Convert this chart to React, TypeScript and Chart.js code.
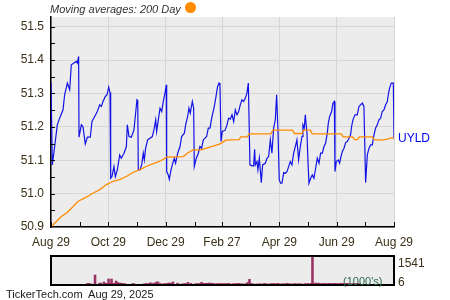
import React, { useEffect, useRef } from 'react';
import { Chart, registerables } from 'chart.js';
Chart.register(...registerables);

// ---------- data ----------
const xTickDays = [0, 61, 122, 182, 243, 304, 365];
const xTickLabels = ['Aug 29', 'Oct 29', 'Dec 29', 'Feb 27', 'Apr 29', 'Jun 29', 'Aug 29'];
const monthTickDays = [0, 31, 61, 92, 122, 153, 182, 212, 243, 273, 304, 334, 365];
const yTickValues = [50.9, 51.0, 51.1, 51.2, 51.3, 51.4, 51.5];

const priceDays = [
  0, 1.4, 3.9, 6.7, 9.2, 12.8, 14.5, 17.4, 19.9, 21.6, 25.2, 27, 28, 29.4, 29.8, 32.3, 34, 36.5, 38.7, 41.8,
  43.6, 46.5, 49.3, 51.8, 53.6, 55.3, 57.8, 59.6, 61.4, 62.8, 63.5, 64.9, 67, 68.5, 70.6, 73.1, 74.8, 77.7, 80.2, 81.2,
  83, 85.5, 88.3, 89.7, 91.5, 92.3, 92.9, 94.7, 96.5, 98.2, 99.3, 100.7, 102.9, 105.3, 107.8, 109.9, 111.4, 112.4, 114.2, 116,
  117.8, 119.5, 121.3, 122.7, 123.1, 124.8, 125.9, 127.7, 129.1, 131.2, 132.6, 134.8, 137.3, 139, 141.9, 143.3, 145.4, 146.8, 148.2, 150.4,
  151.8, 152.5, 154.6, 156.8, 158.5, 160.3, 162.1, 163.9, 165.6, 167.4, 169.2, 171, 173.8, 175.6, 177.3, 178.8, 179.8, 180.9, 182.3, 185.3,
  187.3, 189, 190.8, 192.6, 194.4, 196.1, 197.9, 199.7, 201.4, 203.2, 205, 206.8, 208.5, 210, 211.7, 213.9, 215.6, 216.7, 217.4, 219.2,
  220.2, 221.7, 223.8, 225.2, 228, 229.8, 231.6, 233.4, 235.1, 236.9, 238.7, 240.1, 241.5, 242.9, 244.4, 245.8, 247.6, 249.3, 251.1, 252.9,
  254.6, 256.4, 258.2, 260, 261.7, 263.5, 265.3, 267.1, 268.1, 269.5, 270.6, 272.4, 273.4, 274.5, 276.3, 278.1, 279.8, 281.6, 283.4, 285.2,
  286.9, 288.7, 290.5, 292.2, 294, 295.1, 296.5, 298.6, 300, 301.5, 302.2, 303.6, 305.7, 307.1, 308.2, 310, 311.8, 313.5, 315.3, 317.1,
  318.8, 319.9, 321.3, 323.5, 325.9, 327.7, 329.5, 331.3, 333, 334.8, 336.6, 338.4, 340.1, 341.9, 343.7, 345.4, 347.2, 349, 350.8, 352.5,
  354.3, 356.1, 357.9, 358.9, 360.3, 362.1, 364.3, 365,
];
const priceValues = [
  51.331, 51.086, 51.141, 51.206, 51.226, 51.251, 51.296, 51.331, 51.311, 51.386, 51.393, 51.396, 51.391, 51.411, 51.169, 51.206, 51.201, 51.149, 51.169, 51.169,
  51.216, 51.231, 51.246, 51.266, 51.261, 51.276, 51.291, 51.296, 51.319, 51.303, 51.046, 51.051, 51.081, 51.051, 51.071, 51.116, 51.106, 51.121, 51.141, 51.206,
  51.171, 51.169, 51.191, 51.231, 51.281, 51.279, 51.071, 51.071, 51.086, 51.121, 51.101, 51.136, 51.161, 51.166, 51.171, 51.196, 51.221, 51.186, 51.221, 51.256,
  51.246, 51.276, 51.301, 51.326, 51.066, 51.056, 51.043, 51.071, 51.086, 51.106, 51.091, 51.121, 51.141, 51.171, 51.181, 51.206, 51.231, 51.256, 51.241, 51.276,
  51.256, 51.081, 51.106, 51.121, 51.141, 51.136, 51.161, 51.166, 51.171, 51.196, 51.196, 51.226, 51.261, 51.291, 51.321, 51.331, 51.326, 51.156, 51.186, 51.19,
  51.206, 51.226, 51.223, 51.236, 51.216, 51.251, 51.236, 51.246, 51.266, 51.281, 51.276, 51.286, 51.301, 51.331, 51.086, 51.083, 51.083, 51.133, 51.086, 51.096,
  51.071, 51.106, 51.033, 51.086, 51.091, 51.106, 51.111, 51.161, 51.121, 51.196, 51.221, 51.296, 51.191, 51.041, 51.031, 51.031, 51.063, 51.061, 51.066, 51.081,
  51.096, 51.086, 51.121, 51.141, 51.161, 51.101, 51.141, 51.171, 51.206, 51.196, 51.236, 51.181, 51.101, 51.031, 51.046, 51.056, 51.046, 51.076, 51.106, 51.091,
  51.121, 51.121, 51.141, 51.151, 51.181, 51.211, 51.231, 51.246, 51.271, 51.276, 51.066, 51.096, 51.101, 51.091, 51.106, 51.126, 51.136, 51.153, 51.156, 51.166,
  51.176, 51.201, 51.221, 51.236, 51.236, 51.261, 51.266, 51.271, 51.261, 51.033, 51.116, 51.136, 51.146, 51.146, 51.176, 51.196, 51.206, 51.221, 51.226, 51.246,
  51.251, 51.266, 51.276, 51.296, 51.316, 51.331, 51.331, 51.163,
];

const maDays = [
  0.7, 6, 11.3, 16.7, 22, 29, 38, 45, 52, 59, 66, 73, 80.5, 87.6, 94.7, 101.8, 108.9, 116, 123, 141,
  145, 151, 160, 169, 180, 186, 200, 202, 209, 211, 234, 236, 257, 259, 267, 269, 276, 278, 309, 311,
  321, 323, 326, 328, 342, 344, 352, 358, 362, 365,
];
const maValues = [
  50.902, 50.917, 50.932, 50.942, 50.957, 50.977, 50.99, 51.002, 51.012, 51.027, 51.037, 51.042, 51.052, 51.064, 51.072, 51.082, 51.09, 51.097, 51.109, 51.111,
  51.121, 51.131, 51.131, 51.139, 51.149, 51.16, 51.162, 51.17, 51.17, 51.179, 51.179, 51.19, 51.19, 51.18, 51.18, 51.19, 51.19, 51.179, 51.179, 51.17,
  51.17, 51.162, 51.162, 51.17, 51.17, 51.162, 51.16, 51.163, 51.167, 51.167,
];

const volumeValues = [
  0, 90, 90, 50, 50, 0, 530, 20, 0, 100, 100, 0, 160, 90, 90, 320, 90, 320, 90, 90,
  210, 140, 100, 100, 90, 70, 70, 35, 0, 0, 0, 70, 70, 0, 0, 0, 0, 20, 0, 70,
  70, 70, 70, 120, 0, 100, 100, 160, 160, 70, 70, 0, 70, 70, 70, 100, 100, 100, 160, 0,
  0, 100, 0, 50, 0, 70, 70, 70, 140, 0, 90, 0, 0, 70, 70, 70, 70, 140, 90, 90,
  90, 90, 100, 100, 90, 90, 0, 70, 70, 70, 70, 70, 60, 80, 50, 90, 60, 0, 70, 50,
  80, 60, 90, 50, 70, 40, 60, 80, 150, 300, 90, 60, 50, 0, 60, 40, 70, 0, 60, 90,
  50, 60, 0, 70, 60, 80, 50, 70, 90, 60, 40, 70, 50, 60, 90, 70, 50, 60, 40, 80,
  60, 50, 70, 60, 50, 40, 70, 60, 80, 50, 90, 1541, 70, 110, 90, 100, 80, 60, 90, 70,
  80, 60, 90, 70, 80, 60, 90, 70, 80, 60, 90, 70, 80, 60, 90, 70, 80, 60, 70, 80,
  60, 90, 70,
];
const volumeDays = volumeValues.map((_, i) => i * 2);
const volumeMax = 1541;
const volumeMin = 6;

const FONT = "'Liberation Sans', Arial, sans-serif";
const LABEL_COLOR = '#3b3018';

export default function App() {
  const mainRef = useRef<HTMLCanvasElement | null>(null);
  const volRef = useRef<HTMLCanvasElement | null>(null);

  useEffect(() => {
    document.body.style.margin = '0';
    const bgPlugin = {
      id: 'bg',
      beforeDraw(chart: any) {
        const { ctx, chartArea: a } = chart;
        ctx.save();
        ctx.fillStyle = '#ececec';
        ctx.fillRect(a.left, a.top, a.right - a.left, a.bottom - a.top);
        ctx.restore();
      },
    };
    const innerTicks = {
      id: 'innerTicks',
      afterDraw(chart: any) {
        const { ctx, chartArea: a, scales } = chart;
        ctx.save();
        ctx.strokeStyle = '#000';
        ctx.lineWidth = 1;
        for (let v = 50.95; v <= 51.5001; v += 0.05) {
          const y = Math.round(scales.y.getPixelForValue(v)) + 0.5;
          ctx.beginPath();
          ctx.moveTo(a.left, y);
          ctx.lineTo(a.left + 4, y);
          ctx.stroke();
        }
        monthTickDays.forEach((d) => {
          const x = Math.round(scales.x.getPixelForValue(d)) + 0.5;
          ctx.beginPath();
          ctx.moveTo(x, a.bottom);
          ctx.lineTo(x, a.bottom - 5);
          ctx.stroke();
        });
        // ticker label at last point
        const lastX = scales.x.getPixelForValue(priceDays[priceDays.length - 1]);
        const lastY = scales.y.getPixelForValue(priceValues[priceValues.length - 1]);
        ctx.fillStyle = '#0000ee';
        ctx.font = `12px ${FONT}`;
        ctx.textBaseline = 'middle';
        ctx.textAlign = 'left';
        ctx.fillText('UYLD', lastX + 4, lastY - 1);
        ctx.restore();
      },
    };

    const main = new Chart(mainRef.current!, {
      type: 'line',
      data: {
        datasets: [
          {
            data: maDays.map((d, i) => ({ x: d, y: maValues[i] })),
            borderColor: '#ff8c00',
            borderWidth: 1.3,
            pointRadius: 0,
            tension: 0,
            order: 0,
          },
          {
            data: priceDays.map((d, i) => ({ x: d, y: priceValues[i] })),
            borderColor: '#1212e6',
            borderWidth: 1.2,
            pointRadius: 0,
            tension: 0,
            order: 1,
          },
        ],
      },
      options: {
        animation: false,
        responsive: false,
        events: [],
        layout: { padding: { top: 17, right: 56, left: 0, bottom: 0 } },
        plugins: { legend: { display: false }, tooltip: { enabled: false }, title: { display: false } },
        scales: {
          x: {
            type: 'linear',
            min: 0,
            max: 365,
            afterBuildTicks: (s: any) => {
              s.ticks = xTickDays.map((v) => ({ value: v }));
            },
            afterFit: (s: any) => {
              s.height = 23;
            },
            ticks: {
              autoSkip: false,
              maxRotation: 0,
              padding: 8,
              color: LABEL_COLOR,
              font: { family: FONT, size: 12 },
              callback: (v: any) => {
                const i = xTickDays.indexOf(Number(v));
                return i >= 0 ? xTickLabels[i] : '';
              },
            },
            grid: { color: '#d6d6d6', lineWidth: 1, drawTicks: false },
            border: { display: true, color: '#000', width: 1.5 },
          },
          y: {
            type: 'linear',
            min: 50.9,
            max: 51.529,
            afterBuildTicks: (s: any) => {
              s.ticks = yTickValues.map((v) => ({ value: v }));
            },
            afterFit: (s: any) => {
              s.width = 51;
            },
            ticks: {
              padding: 7,
              color: LABEL_COLOR,
              font: { family: FONT, size: 12 },
              callback: (v: any) => Number(v).toFixed(1),
            },
            grid: { color: '#d6d6d6', lineWidth: 1, drawTicks: false },
            border: { display: true, color: '#000', width: 1.5 },
          },
        },
      },
      plugins: [bgPlugin, innerTicks],
    });

    const boxPlugin = {
      id: 'box',
      afterDraw(chart: any) {
        const { ctx, chartArea: a } = chart;
        ctx.save();
        ctx.strokeStyle = '#000';
        ctx.lineWidth = 2;
        ctx.strokeRect(a.left, a.top, a.right - a.left, a.bottom - a.top);
        ctx.restore();
      },
    };

    const vol = new Chart(volRef.current!, {
      type: 'bar',
      data: {
        datasets: [
          {
            data: volumeDays.map((d, i) => ({ x: d, y: volumeValues[i] })),
            backgroundColor: '#993366',
            barThickness: 1.9,
          },
        ],
      },
      options: {
        animation: false,
        responsive: false,
        events: [],
        layout: { padding: { top: 6, right: 56, left: 51, bottom: 15 } },
        plugins: { legend: { display: false }, tooltip: { enabled: false } },
        scales: {
          x: { type: 'linear', min: -1, max: 365, display: false },
          y: { type: 'linear', min: 0, max: volumeMax, display: false },
        },
      },
      plugins: [bgPlugin, boxPlugin],
    });

    return () => {
      main.destroy();
      vol.destroy();
    };
  }, []);

  const abs = (left: number, top: number, extra: any = {}) => ({
    position: 'absolute' as const,
    left,
    top,
    whiteSpace: 'pre' as const,
    fontFamily: FONT,
    lineHeight: '14px',
    ...extra,
  });

  return (
    <div style={{ position: 'absolute', left: 0, top: 0, width: 450, height: 300, background: '#fff', overflow: 'hidden' }}>
      <canvas ref={mainRef} width={450} height={250} style={{ position: 'absolute', left: 0, top: 0 }} />
      <canvas ref={volRef} width={450} height={50} style={{ position: 'absolute', left: 0, top: 250 }} />
      <div style={abs(50, 2, { fontSize: 11, fontStyle: 'italic', color: '#333' })}>Moving averages: 200 Day</div>
      <div style={{ position: 'absolute', left: 185, top: 2, width: 11, height: 11, borderRadius: '50%', background: '#ff8c00' }} />
      <div style={abs(398, 256, { fontSize: 12, color: LABEL_COLOR })}>{String(volumeMax)}</div>
      <div style={abs(398, 275, { fontSize: 12, color: LABEL_COLOR })}>{String(volumeMin)}</div>
      <div style={abs(343, 274, { fontSize: 11, color: '#2f6e4e' })}>(1000's)</div>
      <div style={abs(6, 287, { fontSize: 11, color: '#1a1a1a' })}>{'TickerTech.com  Aug 29, 2025'}</div>
    </div>
  );
}
